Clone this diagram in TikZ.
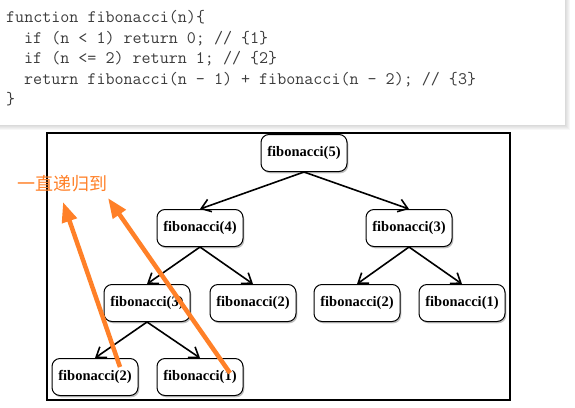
\documentclass[tikz,border=0pt]{standalone}
\usepackage{fontspec}
\setmainfont{Liberation Serif}
\newfontfamily\cjk{Noto Sans CJK SC}
\definecolor{codegray}{RGB}{60, 60, 60}
\definecolor{hint}{RGB}{255, 128, 40}
\usetikzlibrary{arrows.meta}
\usetikzlibrary{positioning}
\usetikzlibrary{shadows}
\tikzset{
  codeline/.style={anchor=base west, inner sep=0, font=\ttfamily\fontsize{17.55}{19}\selectfont, text=codegray},
  fibbox/.style={
    draw, fill=white, rounded corners=8pt, line width=1pt,
    minimum width=86pt, minimum height=37pt, inner sep=0,
    font=\bfseries\fontsize{14.5}{16}\selectfont,
    drop shadow={shadow xshift=1.3pt, shadow yshift=-1.8pt, opacity=0.5}
  },
  call/.style={-{Straight Barb[length=9pt,width=13pt,line width=1.6pt]}, line width=1.6pt},
  back/.style={-{Triangle[length=20pt,width=15pt]}, line width=4.5pt, color=hint}
}
\begin{document}
\begin{tikzpicture}[x=1pt,y=-1pt]
  \useasboundingbox (0,0) rectangle (575,407);
  % code panel
  \foreach \d in {1,...,5}
    \fill[black, opacity=0.03] (0,0) rectangle (565+\d,125+\d);
  \fill[white] (0,0) rectangle (565,125);
  \node[codeline] (l1) at (6,22) {function fibonacci(n)\{};
  \node[codeline] (l2) at (24,43) {if (n < 1) return 0; // \{1\}};
  \node[codeline] (l3) at (24,63) {if (n <= 2) return 1; // \{2\}};
  \node[codeline] (l4) at (24,84) {return fibonacci(n - 1) + fibonacci(n - 2); // \{3\}};
  \node[codeline] (l5) at (6,104) {\}};
  % call tree
  \draw[line width=2pt] (47,133) rectangle (510,400);
  \node[fibbox] (f5)  at (304,153) {fibonacci(5)};
  \node[fibbox] (f4)  at (200,228) {fibonacci(4)};
  \node[fibbox] (f3r) at (409,228) {fibonacci(3)};
  \node[fibbox] (f3l) at (147,303) {fibonacci(3)};
  \node[fibbox] (f2m) at (253,303) {fibonacci(2)};
  \node[fibbox] (f2r) at (357,303) {fibonacci(2)};
  \node[fibbox] (f1r) at (462,303) {fibonacci(1)};
  \node[fibbox] (f2b) at (95,377)  {fibonacci(2)};
  \node[fibbox] (f1b) at (200,377) {fibonacci(1)};
  \draw[call] (f5.south) -- (f4.north);
  \draw[call] (f5.south) -- (f3r.north);
  \draw[call] (f4.south) -- (f3l.north);
  \draw[call] (f4.south) -- (f2m.north);
  \draw[call] (f3r.south) -- (f2r.north);
  \draw[call] (f3r.south) -- (f1r.north);
  \draw[call] (f3l.south) -- (f2b.north);
  \draw[call] (f3l.south) -- (f1b.north);
  % recursion hint
  \node[text=hint, inner sep=0, font=\cjk\fontsize{18}{20}\selectfont] (hint) at (62,184) {一直递归到};
  \coordinate (fromA) at (120,367);
  \coordinate (toA) at (63,202);
  \coordinate (fromB) at (230,373);
  \coordinate (toB) at (108,198);
  \draw[back] (fromA) -- (toA);
  \draw[back] (fromB) -- (toB);
\end{tikzpicture}
\end{document}
